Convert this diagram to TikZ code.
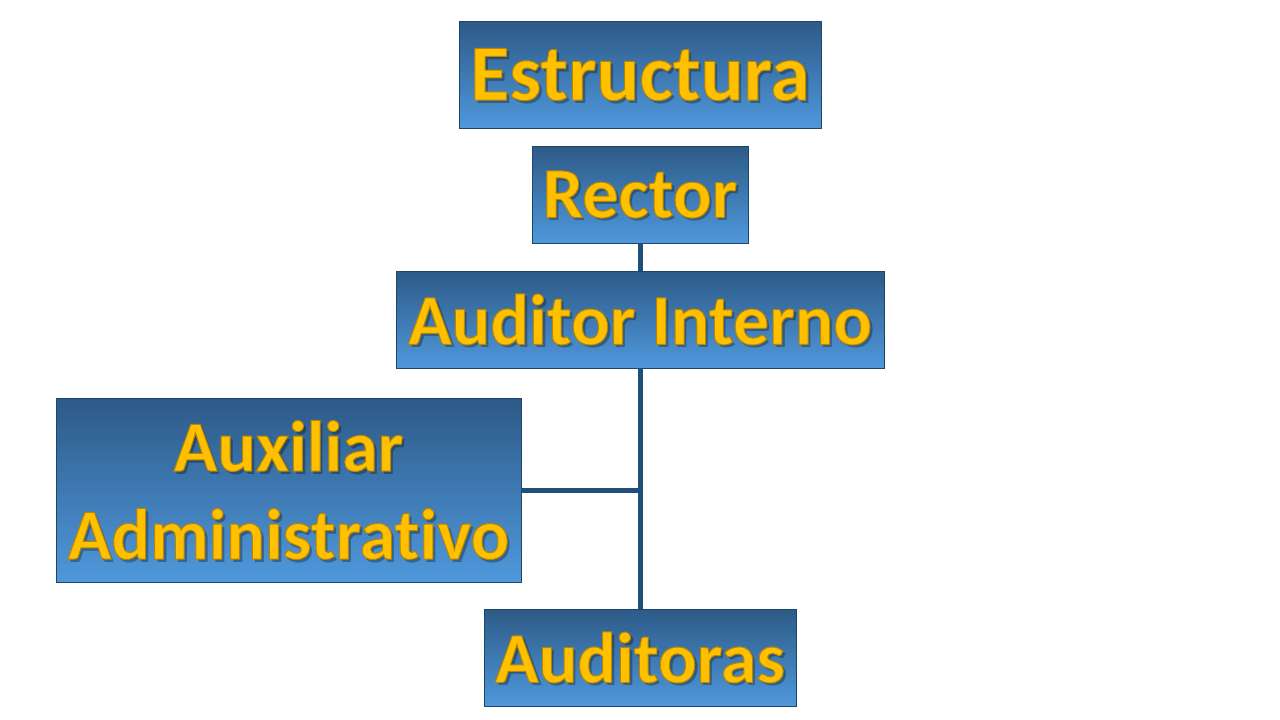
\documentclass[tikz,border=0pt]{standalone}
\usepackage{fontspec}
\setmainfont{Carlito}[RawFeature=-liga]
\definecolor{gold}{HTML}{FFC000}
\definecolor{boxtop}{HTML}{2D5A87}
\definecolor{boxbot}{HTML}{4F98DC}
\definecolor{edgeblue}{HTML}{1F4567}
\definecolor{linkblue}{HTML}{1F4E79}
\tikzset{
  orgbox/.style={draw=edgeblue, line width=0.8pt, top color=boxtop, bottom color=boxbot,
    inner sep=0pt, outer sep=0pt, anchor=center},
  lbl/.style={text=gold, font=\bfseries\fontsize{72}{88}\selectfont, align=center, inner sep=0pt},
  shd/.style={text=black, text opacity=0.3, font=\bfseries\fontsize{72}{88}\selectfont, align=center, inner sep=0pt},
  link/.style={draw=linkblue, line width=5pt}
}
\newcommand{\goldtxt}[1]{\special{pdf:literal direct 2 Tr 1 w 0.72 0.52 0 RG}#1\special{pdf:literal direct 0 Tr}}
\begin{document}
\begin{tikzpicture}[x=1pt,y=-1pt]
\useasboundingbox (0,0) rectangle (1280,720);
\fill[white] (0,0) rectangle (1280,720);
% boxes
\node[orgbox, minimum width=362pt, minimum height=107pt] (est) at (640,74.5) {};
\node[orgbox, minimum width=216pt, minimum height=97pt] (rec) at (640,194.5) {};
\node[orgbox, minimum width=488pt, minimum height=97pt] (aud) at (640,319.5) {};
\node[orgbox, minimum width=465pt, minimum height=184pt] (aux) at (288.5,490) {};
\node[orgbox, minimum width=312pt, minimum height=97pt] (ats) at (640,657.5) {};
% connectors
\draw[link] (rec.south) -- (aud.north);
\draw[link] (aud.south) -- (ats.north);
\draw[link] (aux.east) -- (aud.south |- aux.east);
% labels
\foreach \nm/\txt/\sz in {est/Estructura/80, rec/Rector/72, aud/Auditor Interno/72, ats/Auditoras/72}{
  \node[shd, font=\bfseries\fontsize{\sz}{\sz}\selectfont] at ([xshift=3pt,yshift=-3pt]\nm.center) {\txt};
  \node[lbl, font=\bfseries\fontsize{\sz}{\sz}\selectfont] (t-\nm) at (\nm.center) {\goldtxt{\txt}};
}
\node[shd] at ([xshift=3pt,yshift=-3pt]aux.center) {Auxiliar\\Administrativo};
\node[lbl] (t-aux) at (aux.center) {\goldtxt{Auxiliar}\\\goldtxt{Administrativo}};
\end{tikzpicture}
\end{document}
